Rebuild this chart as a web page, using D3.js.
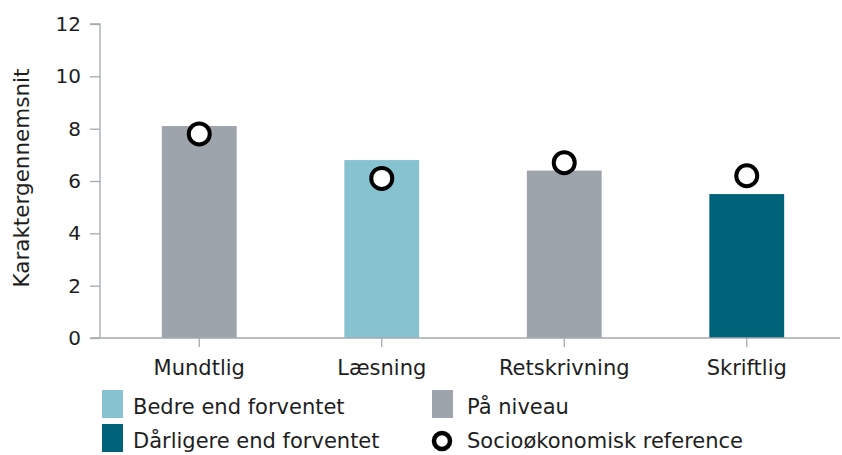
<!DOCTYPE html>
<html><head><meta charset="utf-8">
<script src="https://cdn.jsdelivr.net/npm/d3@7"></script>
<style>body{margin:0;background:#fff}svg{display:block;font-family:"DejaVu Sans",sans-serif}svg text{font-family:"DejaVu Sans",sans-serif}</style>
</head><body><svg id="c" width="842" height="455"></svg>
<script>
const categories = ["Mundtlig", "Læsning", "Retskrivning", "Skriftlig"];
const barValues = [8.1, 6.8, 6.4, 5.5];
const refValues = [7.8, 6.1, 6.7, 6.2];
const status = ["På niveau", "Bedre end forventet", "På niveau", "Dårligere end forventet"];
const yTicks = [0, 2, 4, 6, 8, 10, 12];
const legendItems = ["Bedre end forventet", "På niveau", "Dårligere end forventet", "Socioøkonomisk reference"];
const colorMap = {"Bedre end forventet": "#86c2d0", "På niveau": "#9ea4ab", "Dårligere end forventet": "#00637a"};

const svg = d3.select("#c");
const axisColor = "#a3aab1";
const textColor = "#1e1e1e";
const font = "'DejaVu Sans', sans-serif";
const x = d3.scaleBand().domain(categories).range([108, 838]).paddingInner(0.59).paddingOuter(0.295);
const y = d3.scaleLinear().domain([0, 12]).range([338, 24]);

// bars
svg.append("g").selectAll("rect").data(categories).join("rect")
  .attr("x", d => x(d)).attr("width", x.bandwidth())
  .attr("y", (d, i) => y(barValues[i])).attr("height", (d, i) => y(0) - y(barValues[i]))
  .attr("fill", (d, i) => colorMap[status[i]]);

// y axis
const ya = svg.append("g").attr("transform", "translate(100,0)")
  .call(d3.axisLeft(y).tickValues(yTicks).tickSize(10).tickPadding(9))
  .attr("font-family", font);
ya.select(".domain").attr("stroke", axisColor).attr("stroke-width", 1.3).attr("d", "M-10,24H0V338");
ya.selectAll(".tick line").attr("stroke", axisColor).attr("stroke-width", 1.3);
ya.selectAll(".tick text").attr("fill", textColor).style("font-size", "20px").style("font-family", font);

// x axis
const xa = svg.append("g").attr("transform", "translate(0,338)")
  .call(d3.axisBottom(x).tickSize(9).tickPadding(13).tickSizeOuter(0))
  .attr("font-family", font);
xa.select(".domain").attr("stroke", axisColor).attr("stroke-width", 1.3).attr("d", "M90,0H840");
xa.selectAll(".tick line").attr("stroke", axisColor).attr("stroke-width", 1.3);
xa.selectAll(".tick text").attr("fill", textColor).style("font-size", "21px").style("font-family", font);

// reference circles
svg.append("g").selectAll("circle").data(categories).join("circle")
  .attr("cx", d => x(d) + x.bandwidth() / 2).attr("cy", (d, i) => y(refValues[i]))
  .attr("r", 10.5).attr("fill", "#fff").attr("stroke", "#000").attr("stroke-width", 4);

// y title
svg.append("text").attr("transform", "translate(29,178) rotate(-90)")
  .attr("text-anchor", "middle").attr("fill", textColor).style("font-size", "21.5px").text("Karaktergennemsnit");

// legend
const lg = svg.append("g");
const pos = [[102, 390], [432, 390], [102, 424], [432, 424]];
legendItems.forEach((name, i) => {
  const [lx, ly] = pos[i];
  if (colorMap[name]) {
    lg.append("rect").attr("x", lx).attr("y", ly).attr("width", 21).attr("height", 28).attr("fill", colorMap[name]);
  } else {
    lg.append("circle").attr("cx", lx + 10).attr("cy", ly + 17).attr("r", 8)
      .attr("fill", "#fff").attr("stroke", "#000").attr("stroke-width", 4.5);
  }
  lg.append("text").attr("x", lx + (i % 2 ? 35 : 31)).attr("y", ly + 24).attr("fill", textColor)
    .style("font-size", "21px").text(name);
});
</script></body></html>
